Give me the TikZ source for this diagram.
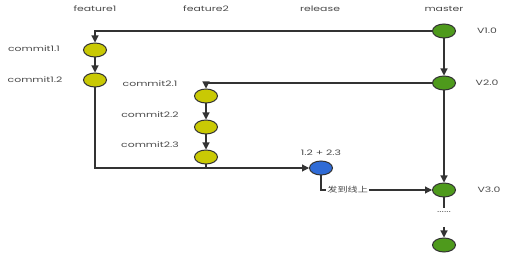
\documentclass[tikz,border=0pt]{standalone}
\usepackage{fontspec}
\setmainfont{Poppins}[FakeStretch=1.45]
\newfontfamily\cjk{Noto Sans CJK SC}[FakeStretch=1.35]
\usetikzlibrary{arrows.meta,shapes.geometric}
\definecolor{cyellow}{HTML}{C9C904}
\definecolor{cgreen}{HTML}{4E9A1C}
\definecolor{cblue}{HTML}{2F6BD6}
\definecolor{cline}{HTML}{333333}
\definecolor{ctext}{HTML}{4A4A4A}
\tikzset{
  commitnode/.style={ellipse, draw=cline, line width=1pt, minimum width=23pt, minimum height=14pt, inner sep=0pt},
  ycommit/.style={commitnode, fill=cyellow},
  gcommit/.style={commitnode, fill=cgreen},
  bcommit/.style={commitnode, fill=cblue},
  lbl/.style={text=ctext, font=\fontsize{7.5pt}{8pt}\selectfont, inner sep=1pt},
  conn/.style={draw=cline, line width=1.1pt},
  arr/.style={conn, -{Triangle[length=7pt,width=7pt]}},
}
\begin{document}
\begin{tikzpicture}[x=1pt,y=-1pt]
\useasboundingbox (0,0) rectangle (516,256);
% column headers
\node[lbl] (h1) at (95,9) {feature1};
\node[lbl] (h2) at (206,9) {feature2};
\node[lbl] (h3) at (320,9) {release};
\node[lbl] (h4) at (444,9) {master};
% commits
\node[ycommit] (c11) at (95,50) {};
\node[ycommit] (c12) at (95,80) {};
\node[ycommit] (c21) at (206,96) {};
\node[ycommit] (c22) at (206,127) {};
\node[ycommit] (c23) at (206,157) {};
\node[gcommit] (v1) at (444,31) {};
\node[gcommit] (v2) at (444,83) {};
\node[gcommit] (v3) at (444,190) {};
\node[gcommit] (v4) at (444,245) {};
\node[bcommit] (rel) at (321,168) {};
% labels
\node[lbl] (l11) at (34,49) {commit1.1};
\node[lbl] (l12) at (35,80) {commit1.2};
\node[lbl] (l21) at (150,84) {commit2.1};
\node[lbl] (l22) at (150,115) {commit2.2};
\node[lbl] (l23) at (150,145) {commit2.3};
\node[lbl] (lv1) at (487,31) {V1.0};
\node[lbl] (lv2) at (487,83) {V2.0};
\node[lbl] (lv3) at (489,190) {V3.0};
\node[lbl] (lrel) at (321,153) {1.2 + 2.3};
\node[lbl] (dots) at (444,212) {......};
\coordinate (d1) at (444,208);
\coordinate (d2) at (444,227);
% connectors
\draw[arr] (v1.west) -| (c11.north);
\draw[arr] (c11) -- (c12);
\draw[arr] (v2.west) -| (c21.north);
\draw[arr] (c21) -- (c22);
\draw[arr] (c22) -- (c23);
\draw[arr] (c12.south) |- (rel.west);
\draw[conn] (c23.south) -- (c23.south |- rel.west);
\draw[arr] (v1) -- (v2);
\draw[arr] (v2) -- (v3);
\draw[arr] (rel.south) |- node[pos=0.62, fill=white, text=ctext, inner sep=1pt, font=\cjk\fontsize{7.5pt}{8pt}\selectfont] {发到线上} (v3.west);
\draw[conn] (v3.south) -- (d1);
\draw[arr] (d2) -- (v4.north);
\end{tikzpicture}
\end{document}
